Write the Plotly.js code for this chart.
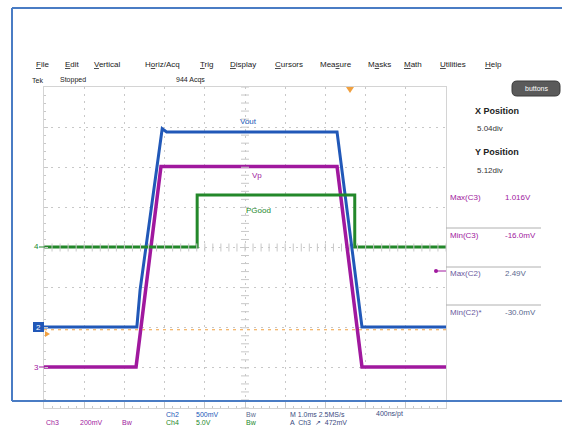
<!DOCTYPE html>
<html><head><meta charset="utf-8">
<script src="https://cdn.plot.ly/plotly-3.0.1.min.js"></script>
<style>html,body{margin:0;padding:0;background:#fff}#c{width:562px;height:427px}</style>
</head><body><div id="c"></div>
<script>
// ---- data (time in ms, voltages in V) ----
const timeVout  = [-5, -2.69, -2.61, -2.06, -1.95, 2.29, 2.91, 5];
const vout      = [0, 0, 0.46, 2.47, 2.43, 2.43, 0, 0];
const timeVp    = [-5, -2.71, -2.09, 2.29, 2.91, 5];
const vp        = [0, 0, 1.0, 1.0, 0, 0];
const timePGood = [-5, -1.19, -1.19, 2.73, 2.73, 5];
const pgood     = [0, 0, 6.5, 6.5, 0, 0];

// channel settings (V/div, ground position in divisions)
const ch2Scale = 0.5, ch2Ground = 2.02;
const ch3Scale = 0.2, ch3Ground = 1.02;
const ch4Scale = 5.0, ch4Ground = 4.01;

const menuItems = ['<u>F</u>ile','<u>E</u>dit','<u>V</u>ertical','H<u>o</u>riz/Acq','<u>T</u>rig','<u>D</u>isplay','<u>C</u>ursors','Mea<u>s</u>ure','M<u>a</u>sks','<u>M</u>ath','<u>U</u>tilities','<u>H</u>elp'];
const menuX = [34, 63, 92, 143, 198, 228, 273, 318, 366, 402, 438, 483];

const measLabels = ['Max(C3)', 'Min(C3)', 'Max(C2)', 'Min(C2)*'];
const measValues = ['1.016V', '-16.0mV', '2.49V', '-30.0mV'];

// ---- layout helpers (pixel -> paper) ----
const L = 44, R = 446, T = 87, B = 408;
const px = x => (x - L) / (R - L);
const py = y => (B - y) / (B - T);

const BLUE = '#2158b8', PURPLE = '#a0189e', GREEN = '#23882a', ORANGE = '#f0a040';
const FONT = 'Liberation Sans, Arial, sans-serif';

const traces = [
  {x: timeVout, y: vout, yaxis: 'y2', mode: 'lines', line: {color: BLUE, width: 3}, hoverinfo: 'skip'},
  {x: timeVp, y: vp, yaxis: 'y3', mode: 'lines', line: {color: PURPLE, width: 3.5}, hoverinfo: 'skip'},
  {x: timePGood, y: pgood, yaxis: 'y4', mode: 'lines', line: {color: GREEN, width: 3}, hoverinfo: 'skip'}
];

const shapes = [];
const ann = [];
function txt(x, y, text, opt) {
  ann.push(Object.assign({xref: 'paper', yref: 'paper', x: px(x), y: py(y), text: text, showarrow: false,
    xanchor: 'left', yanchor: 'middle', font: {family: FONT, size: 8, color: '#333'}}, opt || {}));
}
function line(x0, y0, x1, y1, color, width, dash) {
  shapes.push({type: 'line', xref: 'paper', yref: 'paper', x0: px(x0), y0: py(y0), x1: px(x1), y1: py(y1),
    line: {color: color, width: width || 1, dash: dash || 'solid'}});
}

// center crosshair minor ticks
for (let i = 0; i <= 40; i++) {
  const yy = i * 0.2;
  shapes.push({type: 'line', xref: 'paper', yref: 'y', x0: 0.5 - 4/402, x1: 0.5 + 4/402, y0: yy, y1: yy, line: {color: '#c8c8c8', width: 1}});
}
for (let i = 0; i <= 50; i++) {
  const xx = -5 + i * 0.2;
  shapes.push({type: 'line', xref: 'x', yref: 'paper', x0: xx, x1: xx, y0: 0.5 - 4/321, y1: 0.5 + 4/321, line: {color: '#c8c8c8', width: 1}});
}
// trigger level (orange dashed)
shapes.push({type: 'line', xref: 'paper', yref: 'y', x0: 0, x1: 1, y0: 1.95, y1: 1.95, line: {color: ORANGE, width: 1, dash: '3px,4px'}});
// blue screenshot frame
line(12, 8, 562, 8, '#4a7cc4', 2);
line(12, 8, 12, 401, '#4a7cc4', 2);
line(12, 401, 562, 401, '#4a7cc4', 2);
// measurement separators
[228, 267, 305].forEach(y => line(446, y, 541, y, '#b0b0b0', 1));
// channel ground markers
line(39, 247, 45, 247, GREEN, 1);
line(39, 367, 45, 367, PURPLE, 1);
shapes.push({type: 'rect', xref: 'paper', yref: 'paper', x0: px(33), x1: px(44), y0: py(332), y1: py(322), fillcolor: BLUE, line: {width: 0}});
// trigger markers
shapes.push({type: 'path', xref: 'paper', yref: 'paper',
  path: `M ${px(346)} ${py(87)} L ${px(354)} ${py(87)} L ${px(350)} ${py(93)} Z`, fillcolor: ORANGE, line: {width: 0}});
shapes.push({type: 'path', xref: 'paper', yref: 'paper',
  path: `M ${px(45)} ${py(331)} L ${px(45)} ${py(337)} L ${px(50)} ${py(334)} Z`, fillcolor: ORANGE, line: {width: 0}});
// right-side pointer
line(436, 271, 446, 271, PURPLE, 1);
shapes.push({type: 'circle', xref: 'paper', yref: 'paper', x0: px(434), x1: px(438), y0: py(273), y1: py(269), fillcolor: PURPLE, line: {width: 0}});
// "buttons" pill
const bx0 = px(512), bx1 = px(560), by0 = py(96), by1 = py(81), rx = 5/402, ry = 5/321;
shapes.push({type: 'path', xref: 'paper', yref: 'paper', fillcolor: '#5a5a5a', line: {color: '#3a3a3a', width: 1},
  path: `M ${bx0+rx} ${by0} L ${bx1-rx} ${by0} Q ${bx1} ${by0} ${bx1} ${by0+ry} L ${bx1} ${by1-ry} Q ${bx1} ${by1} ${bx1-rx} ${by1} L ${bx0+rx} ${by1} Q ${bx0} ${by1} ${bx0} ${by1-ry} L ${bx0} ${by0+ry} Q ${bx0} ${by0} ${bx0+rx} ${by0} Z`});

// menu
menuItems.forEach((m, i) => txt(menuX[i], 64, m, {font: {family: FONT, size: 8, color: '#222'}}));
txt(30, 80, 'Tek', {font: {family: FONT, size: 7, color: '#222'}});
txt(58, 80, 'Stopped', {font: {family: FONT, size: 7, color: '#222'}});
txt(174, 80, '944 Acqs', {font: {family: FONT, size: 7, color: '#222'}});

// trace labels
txt(248, 121, 'Vout', {xanchor: 'center', font: {family: FONT, size: 8, color: BLUE}});
txt(257, 175, 'Vp', {xanchor: 'center', font: {family: FONT, size: 8, color: PURPLE}});
txt(258, 210, 'PGood', {xanchor: 'center', font: {family: FONT, size: 8, color: GREEN}});

// channel markers text
txt(36, 246, '4', {xanchor: 'center', font: {family: FONT, size: 8, color: GREEN}});
txt(36, 367, '3', {xanchor: 'center', font: {family: FONT, size: 8, color: PURPLE}});
txt(38.5, 327, '2', {xanchor: 'center', font: {family: FONT, size: 8, color: '#fff'}});

// right panel
txt(536, 88.5, 'buttons', {xanchor: 'center', font: {family: FONT, size: 7, color: '#fff'}});
txt(497, 111, '<b>X Position</b>', {xanchor: 'center', font: {family: FONT, size: 9, color: '#222'}});
txt(490, 128, '5.04div', {xanchor: 'center', font: {family: FONT, size: 8, color: '#333'}});
txt(497, 152, '<b>Y Position</b>', {xanchor: 'center', font: {family: FONT, size: 9, color: '#222'}});
txt(490, 170, '5.12div', {xanchor: 'center', font: {family: FONT, size: 8, color: '#333'}});
const measY = [197, 235, 273, 312];
const measColor = [PURPLE, PURPLE, '#5a6a90', '#5a6a90'];
measLabels.forEach((m, i) => {
  txt(448, measY[i], m, {font: {family: FONT, size: 8, color: i < 2 ? PURPLE : '#6a5aa0'}});
  txt(503, measY[i], measValues[i], {font: {family: FONT, size: 8, color: measColor[i]}});
});

// bottom status
const f7 = c => ({family: FONT, size: 7, color: c});
txt(164, 414, 'Ch2', {font: f7(BLUE)});
txt(194, 414, '500mV', {font: f7(BLUE)});
txt(244, 414, 'Bw', {font: f7('#5a6a90')});
txt(288, 414, 'M 1.0ms 2.5MS/s', {font: f7('#3a4a80')});
txt(374, 414, '400ns/pt', {font: f7('#3a4a80')});
txt(44, 422.5, 'Ch3', {font: f7(PURPLE)});
txt(78, 422.5, '200mV', {font: f7(PURPLE)});
txt(120, 422.5, 'Bw', {font: f7(PURPLE)});
txt(164, 422.5, 'Ch4', {font: f7(GREEN)});
txt(194, 422.5, '5.0V', {font: f7(GREEN)});
txt(244, 422.5, 'Bw', {font: f7(GREEN)});
txt(288, 422.5, 'A  Ch3  \u2197  472mV', {font: f7('#3a4a80')});

const gridAx = {
  showgrid: true, gridcolor: '#c8c8c8', griddash: '2px,5px', gridwidth: 1,
  zeroline: false, showticklabels: false, showline: true, linecolor: '#d4d4d4', linewidth: 1, mirror: true,
  ticks: 'inside', ticklen: 4, tickcolor: '#c8c8c8', fixedrange: true
};
const layout = {
  width: 562, height: 427,
  margin: {l: L, r: 562 - R, t: T, b: 427 - B},
  paper_bgcolor: '#fff', plot_bgcolor: '#fff', showlegend: false,
  xaxis: Object.assign({}, gridAx, {range: [-5, 5], dtick: 1, tick0: -5,
    minor: {dtick: 0.2, ticks: 'inside', ticklen: 2, tickcolor: '#c8c8c8', showgrid: false}}),
  yaxis: Object.assign({}, gridAx, {range: [0, 8], dtick: 1, tick0: 0,
    minor: {dtick: 0.2, ticks: 'inside', ticklen: 2, tickcolor: '#c8c8c8', showgrid: false}}),
  yaxis2: {overlaying: 'y', visible: false, range: [-ch2Ground * ch2Scale, (8 - ch2Ground) * ch2Scale], fixedrange: true},
  yaxis3: {overlaying: 'y', visible: false, range: [-ch3Ground * ch3Scale, (8 - ch3Ground) * ch3Scale], fixedrange: true},
  yaxis4: {overlaying: 'y', visible: false, range: [-ch4Ground * ch4Scale, (8 - ch4Ground) * ch4Scale], fixedrange: true},
  shapes: shapes, annotations: ann
};
Plotly.newPlot('c', traces, layout, {staticPlot: true, displayModeBar: false});
</script></body></html>
